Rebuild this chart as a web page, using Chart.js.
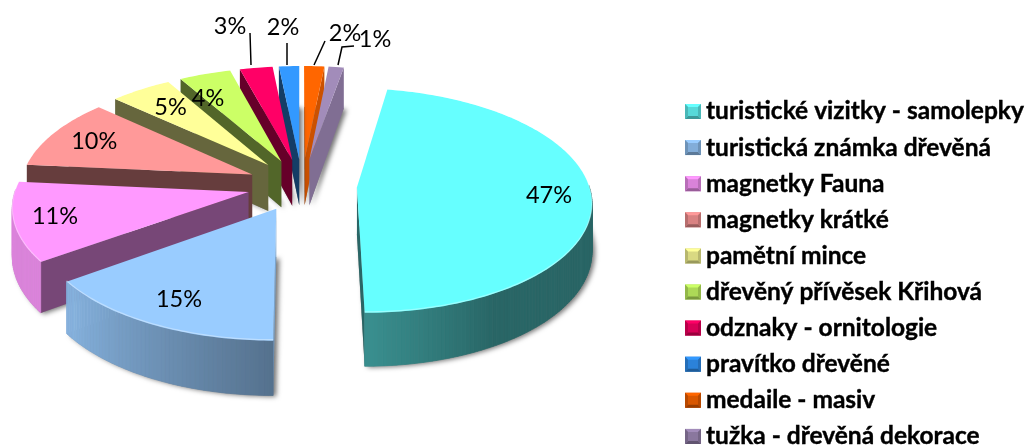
<!DOCTYPE html>
<html>
<head>
<meta charset="utf-8">
<style>
  html, body { margin: 0; padding: 0; background: #fff; overflow: hidden; }
  canvas { display: block; }
</style>
<script src="https://cdn.jsdelivr.net/npm/chart.js@4/dist/chart.umd.js"></script>
</head>
<body>
<canvas id="graf" width="1029" height="446"></canvas>
<script>
const kategorie = [
  "turistické vizitky - samolepky",
  "turistická známka dřevěná",
  "magnetky Fauna",
  "magnetky krátké",
  "pamětní mince",
  "dřevěný přívěsek Křihová",
  "odznaky - ornitologie",
  "pravítko dřevěné",
  "medaile - masiv",
  "tužka - dřevěná dekorace"
];
const hodnoty = [47.2, 15.1, 11.4, 10.3, 4.9, 4.1, 2.6, 1.6, 1.6, 1.2];
const barvy = ["#66ffff", "#99ccff", "#ff99ff", "#ff9999", "#ffff99", "#ccff66", "#ff0066", "#3399ff", "#ff6600", "#a28cba"];

// 3D look: tilt, perspective and wall height
const TILT = 0.475;
const PERSP = 1970;
const WALL = 47;
const FONT = "Lato, 'Open Sans', sans-serif";

// labels inside the slices sit at this fraction of the radius
const popiskyRadius = [0.82, 0.8, 0.83, 0.79, 0.75];
// labels placed by hand, some with a leader line
const popiskyVen = {
  5: { x: 208, y: 98, cara: [] },
  6: { x: 230, y: 26, cara: [[251, 65], [250, 33]] },
  7: { x: 283, y: 27, cara: [[287, 65], [287, 43]] },
  8: { x: 345, y: 33, cara: [[314, 65], [325, 41]] },
  9: { x: 375, y: 39, cara: [[338, 65], [342, 47], [354, 46]] }
};

function odstin(hex, f) {
  const n = parseInt(hex.slice(1), 16);
  const r = Math.round(((n >> 16) & 255) * f);
  const g = Math.round(((n >> 8) & 255) * f);
  const b = Math.round((n & 255) * f);
  return `rgb(${r},${g},${b})`;
}

// brightness of the outer wall by direction (0 = back, 180 = front)
function svetloSteny(uhel) {
  const st = ((uhel * 180 / Math.PI + 90) % 360 + 360) % 360;
  if (st < 150) return 0.4;
  if (st < 179) return 0.4 + (st - 150) / 29 * 0.16;
  if (st < 232) return 0.55 + (st - 179) / 53 * 0.32;
  return 0.86;
}

function svetloRezu(nx) {
  if (nx <= 0.5) return 0.4;
  return 0.4 + (nx - 0.5) * 0.8;
}

function kresliPolygon(ctx, body, barva) {
  ctx.beginPath();
  body.forEach((p, i) => i ? ctx.lineTo(p[0], p[1]) : ctx.moveTo(p[0], p[1]));
  ctx.closePath();
  ctx.fillStyle = barva;
  ctx.fill();
}

function kresliRez(ctx, vrch, dole, barva) {
  kresliPolygon(ctx, [vrch[0], vrch[1], dole[1], dole[0]], barva);
}

function popisek(ctx, text, x, y) {
  ctx.font = "23.5px " + FONT;
  ctx.fillStyle = "#000";
  ctx.textAlign = "center";
  ctx.textBaseline = "middle";
  ctx.fillText(text, x, y);
}

const pie3d = {
  id: "pie3d",
  beforeDatasetsDraw(chart) {
    const ctx = chart.ctx;
    const oblouky = chart.getDatasetMeta(0).data;
    const cx = oblouky[0].x;
    const cy = oblouky[0].y;
    const soucet = hodnoty.reduce((a, b) => a + b, 0);

    const promitni = (x, y, z) => {
      const s = 1 / (1 - (y - cy) / PERSP);
      return [cx + (x - cx) * s, cy + (y - cy) * TILT * s + z * s];
    };

    const rezy = oblouky.map((arc, i) => {
      const off = arc.options.offset / 4;
      const stred = (arc.startAngle + arc.endAngle) / 2;
      return {
        arc, i, stred,
        ax: arc.x + Math.cos(stred) * off,
        ay: arc.y + Math.sin(stred) * off
      };
    }).sort((a, b) => a.ay - b.ay);

    rezy.forEach(r => {
      const { arc, i, ax, ay } = r;
      const R = arc.outerRadius;
      const krok = Math.PI / 180;
      const uhly = [];
      for (let a = arc.startAngle; a < arc.endAngle; a += krok) uhly.push(a);
      uhly.push(arc.endAngle);
      const okraj = (a, z) => promitni(ax + R * Math.cos(a), ay + R * Math.sin(a), z);
      const stredV = promitni(ax, ay, 0);
      const stredD = promitni(ax, ay, WALL);

      // soft shadow under the slice
      ctx.save();
      ctx.shadowColor = "rgba(0,0,0,0.55)";
      ctx.shadowBlur = 5;
      ctx.shadowOffsetX = 3;
      ctx.shadowOffsetY = 1;
      kresliPolygon(ctx, [stredD, ...uhly.map(a => okraj(a, WALL))], "#888");
      ctx.restore();

      // cut faces, only the ones turned to the viewer
      const zacatek = okraj(arc.startAngle, 0);
      const konec = okraj(arc.endAngle, 0);
      if (zacatek[0] < stredV[0]) {
        kresliRez(ctx, [stredV, zacatek], [stredD, okraj(arc.startAngle, WALL)], odstin(barvy[i], svetloRezu(Math.sin(arc.startAngle))));
      }
      if (konec[0] > stredV[0]) {
        kresliRez(ctx, [stredV, konec], [stredD, okraj(arc.endAngle, WALL)], odstin(barvy[i], svetloRezu(-Math.sin(arc.endAngle))));
      }

      // outer wall, one degree at a time for the shading
      for (let k = 0; k < uhly.length - 1; k++) {
        const a1 = uhly[k], a2 = uhly[k + 1];
        if (Math.sin((a1 + a2) / 2) < -0.02) continue;
        const barva = odstin(barvy[i], svetloSteny((a1 + a2) / 2));
        kresliPolygon(ctx, [okraj(a1, 0), okraj(a2, 0), okraj(a2, WALL), okraj(a1, WALL)], barva);
        ctx.strokeStyle = barva;
        ctx.lineWidth = 0.7;
        ctx.stroke();
      }

      // top of the slice
      kresliPolygon(ctx, [stredV, ...uhly.map(a => okraj(a, 0))], barvy[i]);

      // light rim along the front edge
      ctx.beginPath();
      uhly.forEach((a, k) => {
        const p = okraj(a, -0.8);
        k ? ctx.lineTo(p[0], p[1]) : ctx.moveTo(p[0], p[1]);
      });
      ctx.strokeStyle = "rgba(255,255,255,0.35)";
      ctx.lineWidth = 1.2;
      ctx.stroke();
    });

    // percent labels and leader lines
    oblouky.forEach((arc, i) => {
      const off = arc.options.offset / 4;
      const stred = (arc.startAngle + arc.endAngle) / 2;
      const ax = arc.x + Math.cos(stred) * off;
      const ay = arc.y + Math.sin(stred) * off;
      const text = Math.round(hodnoty[i] / soucet * 100) + "%";
      const ven = popiskyVen[i];
      if (ven) {
        if (ven.cara.length) {
          ctx.beginPath();
          ven.cara.forEach((b, k) => k ? ctx.lineTo(b[0], b[1]) : ctx.moveTo(b[0], b[1]));
          ctx.strokeStyle = "#000";
          ctx.lineWidth = 1.5;
          ctx.stroke();
        }
        popisek(ctx, text, ven.x, ven.y);
      } else {
        const q = popiskyRadius[i] * arc.outerRadius;
        const p = promitni(ax + q * Math.cos(stred), ay + q * Math.sin(stred), 0);
        popisek(ctx, text, p[0], p[1]);
      }
    });

    // legend
    kategorie.forEach((nazev, i) => {
      const y = 111.5 + i * 36.1;
      const x0 = 685, y0 = y - 7.5, w = 16, h = 15, b = 3;
      ctx.fillStyle = odstin(barvy[i], 0.85);
      ctx.fillRect(x0, y0, w, h);
      kresliPolygon(ctx, [[x0, y0], [x0 + w, y0], [x0 + w - b, y0 + b], [x0 + b, y0 + b]], odstin(barvy[i], 1));
      kresliPolygon(ctx, [[x0, y0 + h], [x0 + w, y0 + h], [x0 + w - b, y0 + h - b], [x0 + b, y0 + h - b]], odstin(barvy[i], 0.6));
      kresliPolygon(ctx, [[x0, y0], [x0 + b, y0 + b], [x0 + b, y0 + h - b], [x0, y0 + h]], odstin(barvy[i], 0.72));
      kresliPolygon(ctx, [[x0 + w, y0], [x0 + w - b, y0 + b], [x0 + w - b, y0 + h - b], [x0 + w, y0 + h]], odstin(barvy[i], 0.72));
      ctx.font = "bold 24.5px " + FONT;
      ctx.fillStyle = "#000";
      ctx.textAlign = "left";
      ctx.textBaseline = "middle";
      ctx.fillText(nazev, 706, y);
      ctx.strokeStyle = "#000";
      ctx.lineWidth = 0.4;
      ctx.strokeText(nazev, 706, y);
    });

    return false;
  }
};

new Chart(document.getElementById("graf"), {
  type: "pie",
  data: {
    labels: kategorie,
    datasets: [{
      data: hodnoty,
      backgroundColor: barvy,
      borderWidth: 0,
      offset: 220
    }]
  },
  options: {
    responsive: false,
    animation: false,
    rotation: 10,
    radius: 232,
    layout: { padding: { right: 425, bottom: 76 } },
    plugins: {
      legend: { display: false },
      tooltip: { enabled: false }
    }
  },
  plugins: [pie3d]
});
</script>
</body>
</html>
